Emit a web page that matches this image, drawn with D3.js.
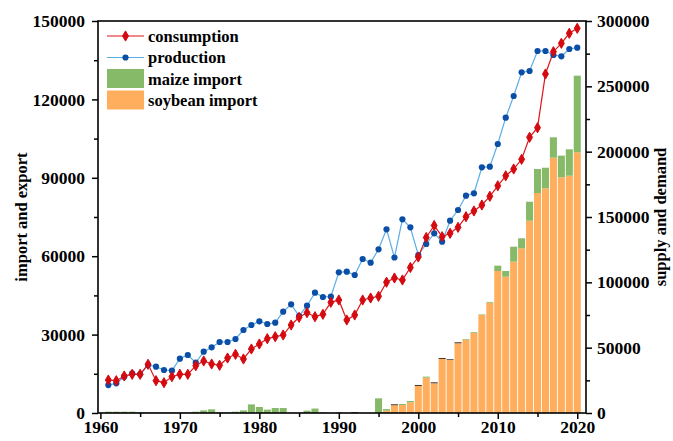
<!DOCTYPE html>
<html>
<head>
<meta charset="utf-8">
<script src="https://cdn.jsdelivr.net/npm/d3@7"></script>
<style>
  body { margin: 0; background: #fff; }
  svg text { font-family: "Liberation Serif", "Times New Roman", serif; font-weight: bold; }
</style>
</head>
<body>
<svg id="chart" width="673" height="441"></svg>
<script>
// years 1961..2020
var years = d3.range(1961, 2021);

var consumption = [
  25250, 24720, 28320, 29620, 29620, 37270, 24720, 23190, 27780, 29620,
  29620, 36200, 39800, 37500, 36500, 42090, 44920, 41330, 48980, 52810,
  56860, 58390, 59690, 67350, 73240, 76760, 73700, 75530, 84720, 86480,
  71170, 75000, 86480, 88010, 89310, 100100, 103320, 101780, 111350, 119390,
  134310, 143490, 134920, 137520, 142110, 150230, 154590, 159180, 165840, 173880,
  181530, 186730, 194150, 211000, 218340, 259440, 276500, 282930, 290580, 294410
];

var production = [
  21400, 22700, 27780, 30380, 29620, 36730, 35430, 32900, 32370, 41560,
  44390, 38490, 46910, 50280, 54340, 54340, 56630, 63520, 67350, 70180,
  68110, 69110, 77520, 83190, 74230, 82120, 92060, 88770, 89000, 107670,
  108140, 105610, 117860, 115020, 125280, 140580, 119000, 148240, 142110, 120920,
  129330, 137520, 131100, 147170, 155350, 166300, 168140, 188030, 188490, 205860,
  226000, 242600, 260730, 261730, 277040, 277040, 273980, 272980, 278570, 279560
];

var soybeanImport = [
  0, 0, 0, 0, 0, 0, 0, 0, 0, 0,
  0, 0, 0, 0, 0, 0, 0, 0, 0, 0,
  0, 0, 0, 0, 0, 0, 0, 0, 0, 0,
  0, 0, 0, 0, 0, 900, 2950, 3060, 4090, 10330,
  13510, 11360, 20660, 20280, 26670, 28050, 30610, 37500, 42210, 54340,
  52150, 57900, 63020, 73580, 84180, 85980, 97690, 90190, 90800, 99760
];

var maizeImport = [
  500, 500, 500, 500, 300, 200, 200, 200, 200, 200,
  200, 500, 1000, 1400, 300, 200, 500, 1000, 3300, 2300,
  1300, 1900, 1900, 100, 100, 900, 1700, 200, 0, 300,
  0, 0, 0, 0, 5600, 600, 0, 380, 500, 0,
  400, 0, 0, 0, 0, 250, 300, 200, 300, 2040,
  2170, 5740, 3830, 7270, 9180, 7880, 7800, 8290, 10100, 29320
];

// thin dark cap seen on a few bars
var otherImport = [
  0, 0, 0, 0, 0, 0, 0, 0, 0, 0,
  0, 0, 0, 0, 0, 0, 0, 0, 0, 0,
  0, 0, 0, 0, 0, 0, 0, 0, 0, 0,
  0, 300, 0, 0, 0, 0, 400, 0, 0, 400,
  0, 400, 400, 300, 400, 0, 0, 0, 0, 0,
  0, 0, 0, 0, 0, 0, 0, 0, 0, 0
];

var leftTicks = [0, 30000, 60000, 90000, 120000, 150000];
var rightTicks = [0, 50000, 100000, 150000, 200000, 250000, 300000];
var yearTicks = [1960, 1970, 1980, 1990, 2000, 2010, 2020];

var margin = {top: 21, right: 87, bottom: 28, left: 98},
  W = 673, H = 441,
  x0 = margin.left, x1 = W - margin.right,
  y0 = H - margin.bottom, y1 = margin.top;

var svg = d3.select('#chart');

var x = d3.scaleLinear().domain([1959.7, 2021.1]).range([x0, x1]);
var yL = d3.scaleLinear().domain([0, 150000]).range([y0, y1]);
var yR = d3.scaleLinear().domain([0, 300000]).range([y0, y1]);

var barW = (x(1) - x(0)) - 0.9;

// bars: soybean bottom, dark cap, maize on top
var rows = years.map(function (yr, i) {
  return {year: yr, soy: soybeanImport[i], maize: maizeImport[i], other: otherImport[i]};
});
var stack = d3.stack().keys(['soy', 'other', 'maize'])(rows);
var barColors = {soy: '#ffae5e', maize: '#86b968', other: '#4a3a30'};

var gBars = svg.append('g');
stack.forEach(function (layer) {
  gBars.selectAll('rect.' + layer.key)
    .data(layer)
    .enter().append('rect')
    .attr('class', layer.key)
    .attr('x', function (d) { return x(d.data.year) - barW / 2; })
    .attr('width', barW)
    .attr('y', function (d) { return yL(d[1]); })
    .attr('height', function (d) { return Math.max(0, yL(d[0]) - yL(d[1])); })
    .attr('fill', barColors[layer.key]);
});

// lines
var lineR = function (vals) {
  return d3.line()
    .x(function (d, i) { return x(years[i]); })
    .y(function (d) { return yR(d); })(vals);
};

svg.append('path')
  .attr('d', lineR(production))
  .attr('fill', 'none')
  .attr('stroke', '#5aaee6')
  .attr('stroke-width', 1.2);

svg.append('path')
  .attr('d', lineR(consumption))
  .attr('fill', 'none')
  .attr('stroke', '#e0141a')
  .attr('stroke-width', 1.2);

svg.selectAll('circle.prod')
  .data(production)
  .enter().append('circle')
  .attr('class', 'prod')
  .attr('cx', function (d, i) { return x(years[i]); })
  .attr('cy', function (d) { return yR(d); })
  .attr('r', 3.1)
  .attr('fill', '#0b4ea6');

var marker = d3.symbol().type(d3.symbolDiamond).size(30);
svg.selectAll('path.cons')
  .data(consumption)
  .enter().append('path')
  .attr('class', 'cons')
  .attr('transform', function (d, i) { return 'translate(' + x(years[i]) + ',' + yR(d) + ')'; })
  .attr('d', marker)
  .attr('fill', '#d40a10')
  .attr('stroke', '#d40a10')
  .attr('stroke-width', 1);

// axes
function styleAxis(g) {
  g.select('.domain').remove();
  g.selectAll('line').attr('stroke', '#000').attr('stroke-width', 1.5);
  g.selectAll('text').attr('fill', '#000').style('font-size', '17.5px');
}

function minor(vals, step) {
  var out = [];
  for (var i = 0; i < vals.length - 1; i++) out.push(vals[i] + step);
  return out;
}

svg.append('g').attr('transform', 'translate(' + x0 + ',0)')
  .call(d3.axisLeft(yL).tickValues(leftTicks).tickFormat(d3.format('d')).tickSize(6).tickPadding(7))
  .call(styleAxis);
svg.append('g').attr('transform', 'translate(' + x0 + ',0)')
  .call(d3.axisLeft(yL).tickValues(minor(leftTicks, 15000)).tickFormat('').tickSize(4))
  .call(styleAxis);

svg.append('g').attr('transform', 'translate(' + x1 + ',0)')
  .call(d3.axisRight(yR).tickValues(rightTicks).tickFormat(d3.format('d')).tickSize(6).tickPadding(5))
  .call(styleAxis);
svg.append('g').attr('transform', 'translate(' + x1 + ',0)')
  .call(d3.axisRight(yR).tickValues(minor(rightTicks, 25000)).tickFormat('').tickSize(4))
  .call(styleAxis);

svg.append('g').attr('transform', 'translate(0,' + y0 + ')')
  .call(d3.axisBottom(x).tickValues(yearTicks).tickFormat(d3.format('d')).tickSize(6).tickPadding(2))
  .call(styleAxis);
svg.append('g').attr('transform', 'translate(0,' + y0 + ')')
  .call(d3.axisBottom(x).tickValues(minor(yearTicks, 5)).tickFormat('').tickSize(4))
  .call(styleAxis);

// frame
svg.append('rect')
  .attr('x', x0).attr('y', y1)
  .attr('width', x1 - x0).attr('height', y0 - y1)
  .attr('fill', 'none').attr('stroke', '#000').attr('stroke-width', 1.6);

// axis titles
svg.append('text')
  .attr('transform', 'translate(27,' + ((y0 + y1) / 2) + ') rotate(-90)')
  .attr('text-anchor', 'middle')
  .style('font-size', '16.5px')
  .text('import and export');

svg.append('text')
  .attr('transform', 'translate(666,' + ((y0 + y1) / 2) + ') rotate(-90)')
  .attr('text-anchor', 'middle')
  .style('font-size', '16.5px')
  .text('supply and demand');

// legend
var legend = svg.append('g').attr('transform', 'translate(107,36)');
var legItems = [
  {name: 'consumption', type: 'line', stroke: '#e0141a', mark: '#d40a10'},
  {name: 'production', type: 'line', stroke: '#5aaee6', mark: '#0b4ea6'},
  {name: 'maize import', type: 'box', fill: '#86b968'},
  {name: 'soybean import', type: 'box', fill: '#ffae5e'}
];
legItems.forEach(function (it, i) {
  var g = legend.append('g').attr('transform', 'translate(0,' + (i * 21.5) + ')');
  if (it.type === 'line') {
    g.append('line').attr('x1', 0).attr('x2', 37).attr('y1', 0).attr('y2', 0)
      .attr('stroke', it.stroke).attr('stroke-width', 1.2);
    if (i === 0) {
      g.append('path').attr('transform', 'translate(18.5,0)').attr('d', marker)
        .attr('fill', it.mark).attr('stroke', it.mark).attr('stroke-width', 1);
    } else {
      g.append('circle').attr('cx', 18.5).attr('cy', 0).attr('r', 3.1).attr('fill', it.mark);
    }
  } else {
    g.append('rect').attr('x', 0).attr('y', -10).attr('width', 37).attr('height', 19).attr('fill', it.fill);
  }
  g.append('text').attr('x', 41).attr('y', 5.5).style('font-size', '16.5px').text(it.name);
});
</script>
</body>
</html>
